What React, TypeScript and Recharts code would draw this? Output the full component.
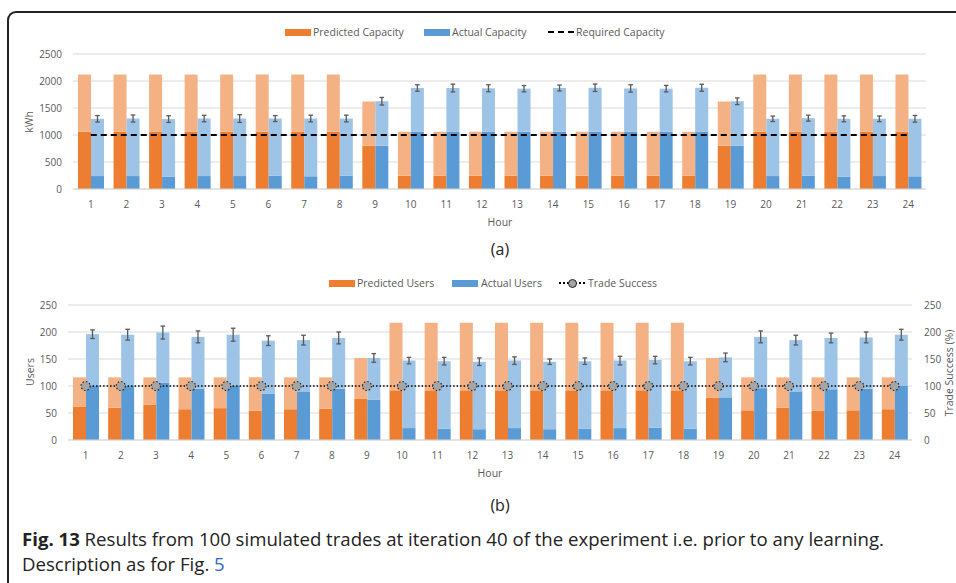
import { ComposedChart, Bar, Line, XAxis, YAxis, CartesianGrid, ErrorBar } from "recharts";

const HOURS = ["1", "2", "3", "4", "5", "6", "7", "8", "9", "10", "11", "12", "13", "14", "15", "16", "17", "18", "19", "20", "21", "22", "23", "24"];

// (a) capacity, kWh
const PRED_CAP_BASE = [1060, 1060, 1060, 1060, 1060, 1060, 1060, 1060, 800, 245, 245, 245, 245, 245, 245, 245, 245, 245, 800, 1060, 1060, 1060, 1060, 1060];
const PRED_CAP_TOTAL = [2120, 2120, 2120, 2120, 2120, 2120, 2120, 2120, 1620, 1060, 1060, 1060, 1060, 1060, 1060, 1060, 1060, 1060, 1620, 2120, 2120, 2120, 2120, 2120];
const ACT_CAP_BASE = [240, 240, 225, 240, 240, 245, 235, 245, 800, 1060, 1060, 1060, 1060, 1060, 1060, 1060, 1060, 1065, 800, 240, 245, 225, 240, 235];
const ACT_CAP_TOTAL = [1300, 1305, 1295, 1305, 1305, 1305, 1305, 1305, 1625, 1870, 1870, 1865, 1858, 1870, 1875, 1862, 1858, 1875, 1625, 1300, 1312, 1300, 1300, 1300];
const ACT_CAP_ERR = [60, 65, 62, 60, 72, 55, 62, 62, 70, 60, 72, 65, 58, 55, 68, 68, 60, 65, 62, 50, 55, 55, 52, 62];
const REQUIRED_CAP = [1000, 1000, 1000, 1000, 1000, 1000, 1000, 1000, 1000, 1000, 1000, 1000, 1000, 1000, 1000, 1000, 1000, 1000, 1000, 1000, 1000, 1000, 1000, 1000];

// (b) users
const PRED_USERS_BASE = [62, 60, 65, 57, 59, 54, 57, 58, 76, 92, 92, 92, 92, 92, 92, 92, 92, 92, 78, 55, 60, 54, 55, 57];
const PRED_USERS_TOTAL = [116, 116, 116, 116, 116, 116, 116, 116, 152, 217, 217, 217, 217, 217, 217, 217, 217, 217, 152, 116, 116, 116, 116, 116];
const ACT_USERS_BASE = [101, 101, 106, 95, 100, 86, 90, 95, 75, 22, 21, 20, 22, 20, 21, 22, 23, 21, 79, 96, 90, 94, 95, 100];
const ACT_USERS_TOTAL = [196, 195, 199, 191, 195, 184, 185, 189, 152, 147, 146, 145, 147, 145, 146, 147, 148, 146, 153, 191, 185, 189, 190, 195];
const ACT_USERS_ERR = [8, 10, 12, 11, 12, 9, 9, 11, 8, 6, 7, 7, 7, 5, 6, 8, 7, 7, 8, 11, 9, 9, 10, 10];
const TRADE_SUCCESS = [100, 100, 100, 100, 100, 100, 100, 100, 100, 100, 100, 100, 100, 100, 100, 100, 100, 100, 100, 100, 100, 100, 100, 100];

const CAP_TICKS = [0, 500, 1000, 1500, 2000, 2500];
const USER_TICKS = [0, 50, 100, 150, 200, 250];

const ORANGE = "#ED7D31";
const ORANGE_LIGHT = "#F4B183";
const BLUE = "#5B9BD5";
const BLUE_LIGHT = "#9DC3E6";
const GRID = "#D9D9D9";
const TEXT = "#595959";
const FONT = "Open Sans";

const capData = HOURS.map((h, i) => ({
  hour: h,
  predBase: PRED_CAP_BASE[i],
  predTop: PRED_CAP_TOTAL[i] - PRED_CAP_BASE[i],
  actBase: ACT_CAP_BASE[i],
  actTop: ACT_CAP_TOTAL[i] - ACT_CAP_BASE[i],
  actErr: ACT_CAP_ERR[i],
  required: REQUIRED_CAP[i],
}));

const userData = HOURS.map((h, i) => ({
  hour: h,
  predBase: PRED_USERS_BASE[i],
  predTop: PRED_USERS_TOTAL[i] - PRED_USERS_BASE[i],
  actBase: ACT_USERS_BASE[i],
  actTop: ACT_USERS_TOTAL[i] - ACT_USERS_BASE[i],
  actErr: ACT_USERS_ERR[i],
  success: TRADE_SUCCESS[i],
}));

const tickStyle = { fill: TEXT, fontSize: 10, fontFamily: FONT };

function Txt({ x, y, children, size = 10.5, rotate = false, anchor = "left" }: any) {
  const style: any = {
    position: "absolute",
    left: x,
    top: y,
    fontFamily: FONT,
    fontSize: size,
    color: TEXT,
    whiteSpace: "nowrap",
    lineHeight: 1,
  };
  if (rotate) {
    style.transform = "translate(-50%, -50%) rotate(-90deg)";
  } else if (anchor === "center") {
    style.transform = "translate(-50%, -50%)";
  } else {
    style.transform = "translateY(-50%)";
  }
  return <div style={style}>{children}</div>;
}

function Swatch({ x, y, color }: { x: number; y: number; color: string }) {
  return <div style={{ position: "absolute", left: x, top: y - 3.5, width: 26, height: 7, background: color }} />;
}

export default function App() {
  return (
    <div style={{ position: "absolute", left: 0, top: 0, width: 956, height: 583, background: "#fff", overflow: "hidden" }}>
      <div
        style={{
          position: "absolute",
          left: 7,
          top: 11,
          width: 1000,
          height: 700,
          borderLeft: "2px solid #222",
          borderTop: "2px solid #222",
          borderTopLeftRadius: 9,
        }}
      />

      {/* (a) */}
      <div style={{ position: "absolute", left: 0, top: 0 }}>
        <ComposedChart width={956} height={260} data={capData} barSize={13} barGap={0} margin={{ top: 54, right: 30, left: 0, bottom: 41 }}>
          <CartesianGrid vertical={false} stroke={GRID} />
          <XAxis dataKey="hour" height={30} tickLine={false} axisLine={{ stroke: GRID }} tick={tickStyle} tickMargin={6} interval={0} />
          <YAxis width={73} domain={[0, 2500]} ticks={CAP_TICKS} axisLine={false} tickLine={false} tick={tickStyle} tickMargin={5} />
          <Bar dataKey="predBase" stackId="p" fill={ORANGE} isAnimationActive={false} />
          <Bar dataKey="predTop" stackId="p" fill={ORANGE_LIGHT} isAnimationActive={false} />
          <Bar dataKey="actBase" stackId="a" fill={BLUE} isAnimationActive={false} />
          <Bar dataKey="actTop" stackId="a" fill={BLUE_LIGHT} isAnimationActive={false}>
            <ErrorBar dataKey="actErr" width={2.3} stroke="#595959" strokeWidth={1.3} direction="y" />
          </Bar>
          <Line dataKey="required" stroke="#000" strokeWidth={2} strokeDasharray="6 4" dot={false} isAnimationActive={false} />
        </ComposedChart>
      </div>
      <Swatch x={285} y={32} color={ORANGE} />
      <Txt x={313} y={32}>Predicted Capacity</Txt>
      <Swatch x={424} y={32} color={BLUE} />
      <Txt x={452} y={32}>Actual Capacity</Txt>
      <div style={{ position: "absolute", left: 548, top: 31, width: 26, height: 0, borderTop: "2px dashed #000" }} />
      <Txt x={576} y={32}>Required Capacity</Txt>
      <Txt x={29} y={122} rotate>kWh</Txt>
      <Txt x={500} y={222} anchor="center">Hour</Txt>
      <Txt x={500} y={249} anchor="center" size={16}>
        <span style={{ color: "#222" }}>(a)</span>
      </Txt>

      {/* (b) */}
      <div style={{ position: "absolute", left: 0, top: 250 }}>
        <ComposedChart width={956} height={260} data={userData} barSize={13} barGap={0} margin={{ top: 55, right: 0, left: 0, bottom: 40 }}>
          <CartesianGrid vertical={false} stroke={GRID} yAxisId="left" />
          <XAxis dataKey="hour" height={30} tickLine={false} axisLine={{ stroke: GRID }} tick={tickStyle} tickMargin={6} interval={0} />
          <YAxis yAxisId="left" width={68} domain={[0, 250]} ticks={USER_TICKS} axisLine={false} tickLine={false} tick={tickStyle} tickMargin={5} />
          <YAxis yAxisId="right" orientation="right" width={44} domain={[0, 250]} ticks={USER_TICKS} axisLine={false} tickLine={false} tick={tickStyle} tickMargin={6} />
          <Bar yAxisId="left" dataKey="predBase" stackId="p" fill={ORANGE} isAnimationActive={false} />
          <Bar yAxisId="left" dataKey="predTop" stackId="p" fill={ORANGE_LIGHT} isAnimationActive={false} />
          <Bar yAxisId="left" dataKey="actBase" stackId="a" fill={BLUE} isAnimationActive={false} />
          <Bar yAxisId="left" dataKey="actTop" stackId="a" fill={BLUE_LIGHT} isAnimationActive={false}>
            <ErrorBar dataKey="actErr" width={2.3} stroke="#595959" strokeWidth={1.3} direction="y" />
          </Bar>
          <Line
            yAxisId="right"
            dataKey="success"
            stroke="#000"
            strokeWidth={1.5}
            strokeDasharray="1.5 2"
            dot={{ r: 4.5, fill: "#A5A5A5", stroke: "#262626", strokeWidth: 1.2 }}
            isAnimationActive={false}
          />
        </ComposedChart>
      </div>
      <Swatch x={329} y={283} color={ORANGE} />
      <Txt x={357} y={283}>Predicted Users</Txt>
      <Swatch x={452} y={283} color={BLUE} />
      <Txt x={481} y={283}>Actual Users</Txt>
      <div style={{ position: "absolute", left: 559, top: 282, width: 26, height: 0, borderTop: "2px dotted #000" }} />
      <div
        style={{
          position: "absolute",
          left: 572 - 4.5,
          top: 283 - 4.5,
          width: 7,
          height: 7,
          borderRadius: "50%",
          background: "#A5A5A5",
          border: "1.2px solid #262626",
        }}
      />
      <Txt x={588} y={283}>Trade Success</Txt>
      <Txt x={30} y={372} rotate>Users</Txt>
      <Txt x={949} y={373} rotate>Trade Success (%)</Txt>
      <Txt x={490} y={473} anchor="center">Hour</Txt>
      <Txt x={500} y={505} anchor="center" size={16}>
        <span style={{ color: "#222" }}>(b)</span>
      </Txt>

      {/* caption */}
      <div
        style={{
          position: "absolute",
          left: 22,
          top: 526,
          fontFamily: FONT,
          fontSize: 18.6,
          lineHeight: "25px",
          color: "#222",
          whiteSpace: "nowrap",
        }}
      >
        <div>
          <b>Fig. 13</b> Results from 100 simulated trades at iteration 40 of the experiment i.e. prior to any learning.
        </div>
        <div>
          Description as for Fig. <span style={{ color: "#3366cc" }}>5</span>
        </div>
      </div>
    </div>
  );
}
